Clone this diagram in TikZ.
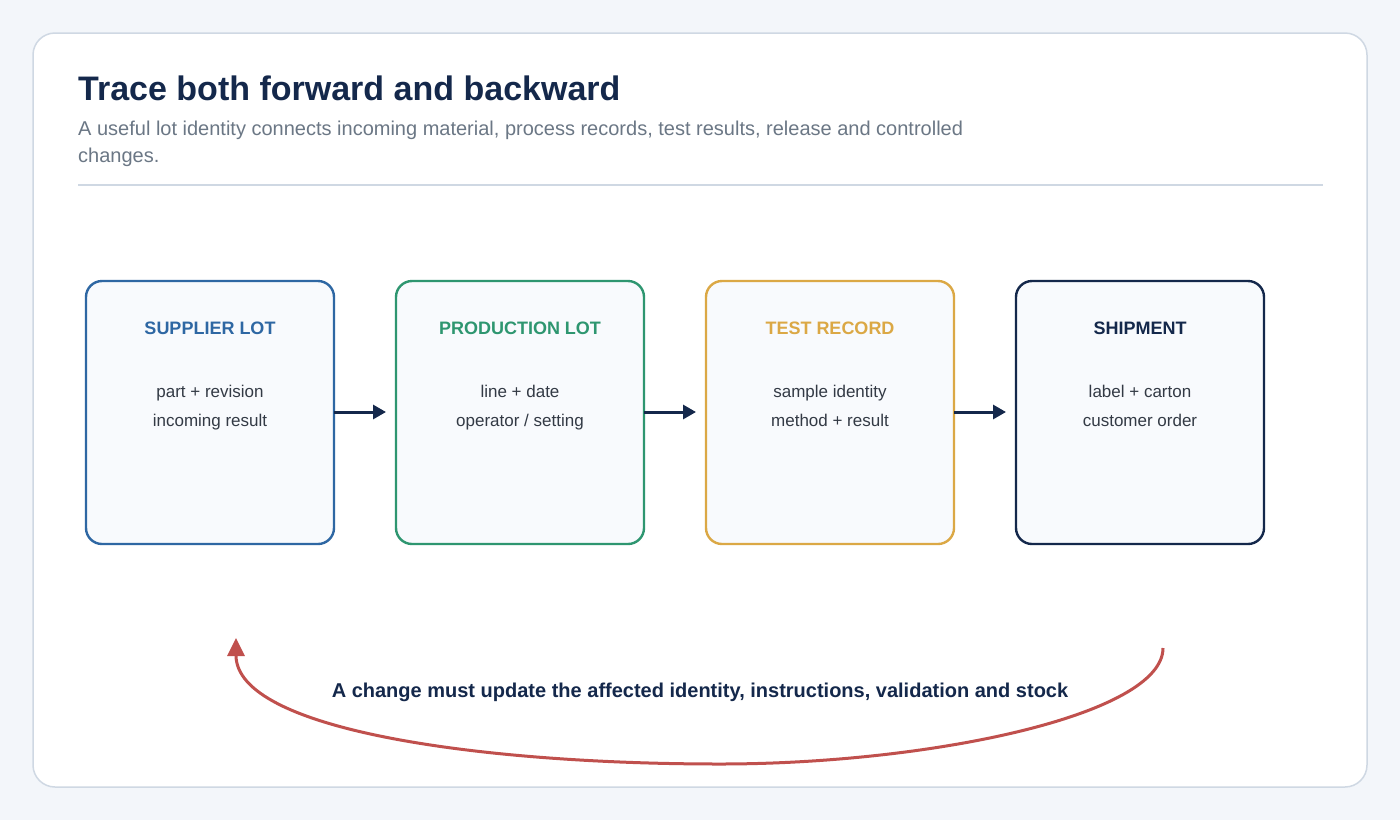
\documentclass[tikz,border=0pt]{standalone}
\usepackage{fontspec}
\setmainfont{Liberation Sans}
\usetikzlibrary{arrows.meta}
\definecolor{bg}{HTML}{F3F6FA}
\definecolor{cardb}{HTML}{CFD8E3}
\definecolor{navy}{HTML}{14284B}
\definecolor{sub}{HTML}{6B7785}
\definecolor{cblue}{HTML}{2E67A3}
\definecolor{cgreen}{HTML}{2E9670}
\definecolor{cyel}{HTML}{DBA845}
\definecolor{boxf}{HTML}{F8FAFD}
\definecolor{txt}{HTML}{333A45}
\definecolor{cred}{HTML}{C0504D}
\begin{document}
\begin{tikzpicture}[x=1pt,y=-1pt,
  box/.style={draw=#1,line width=2.4pt,rounded corners=16pt,fill=boxf},
  head/.style={font=\fontsize{18}{21}\selectfont\bfseries,anchor=base,inner sep=0},
  body/.style={font=\fontsize{17}{20}\selectfont,text=txt,anchor=base,inner sep=0},
  conn/.style={draw=navy,line width=3pt,shorten >=10pt,-{Triangle[length=13pt,width=14pt]}}]
\useasboundingbox (0,0) rectangle (1400,820);
\fill[bg] (0,0) rectangle (1400,820);
\draw[cardb,fill=white,line width=1.5pt,rounded corners=22pt] (33,33) rectangle (1367,787);
\node[anchor=base west,inner sep=0,text=navy,font=\fontsize{34}{40}\selectfont\bfseries] (title) at (78,100) {Trace both forward and backward};
\node[anchor=base west,inner sep=0,text=sub,font=\fontsize{20}{24}\selectfont] (sub1) at (78,135) {A useful lot identity connects incoming material, process records, test results, release and controlled};
\node[anchor=base west,inner sep=0,text=sub,font=\fontsize{20}{24}\selectfont] (sub2) at (78,162) {changes.};
\draw[cardb,line width=1.5pt] (78,185) -- (1323,185);
\foreach \n/\x/\c/\h/\p/\q in {a/86/cblue/SUPPLIER LOT/part + revision/incoming result,
  b/396/cgreen/PRODUCTION LOT/line + date/{operator / setting},
  c/706/cyel/TEST RECORD/sample identity/method + result,
  d/1016/navy/SHIPMENT/label + carton/customer order}{
  \draw[box=\c] (\x,281) rectangle ++(248,263);
  \coordinate (\n L) at (\x,412);
  \coordinate (\n R) at (\x+248,412);
  \node[head,text=\c] (\n h) at (\x+124,334) {\h};
  \node[body] (\n p) at (\x+124,397) {\p};
  \node[body] (\n q) at (\x+124,426) {\q};
}
\draw[conn] (aR) -- (bL);
\draw[conn] (bR) -- (cL);
\draw[conn] (cR) -- (dL);
\coordinate (s) at (1163,648);
\coordinate (m) at (720,764);
\coordinate (e) at (236,638);
\draw[cred,line width=3pt,-{Triangle[length=18pt,width=17pt]}] (s) .. controls (1163,715) and (930,764) .. (m) .. controls (480,764) and (236,730) .. (e);
\node[anchor=base,inner sep=0,text=navy,font=\fontsize{20}{24}\selectfont\bfseries] (lab) at (700,697) {A change must update the affected identity, instructions, validation and stock};
\end{tikzpicture}
\end{document}
